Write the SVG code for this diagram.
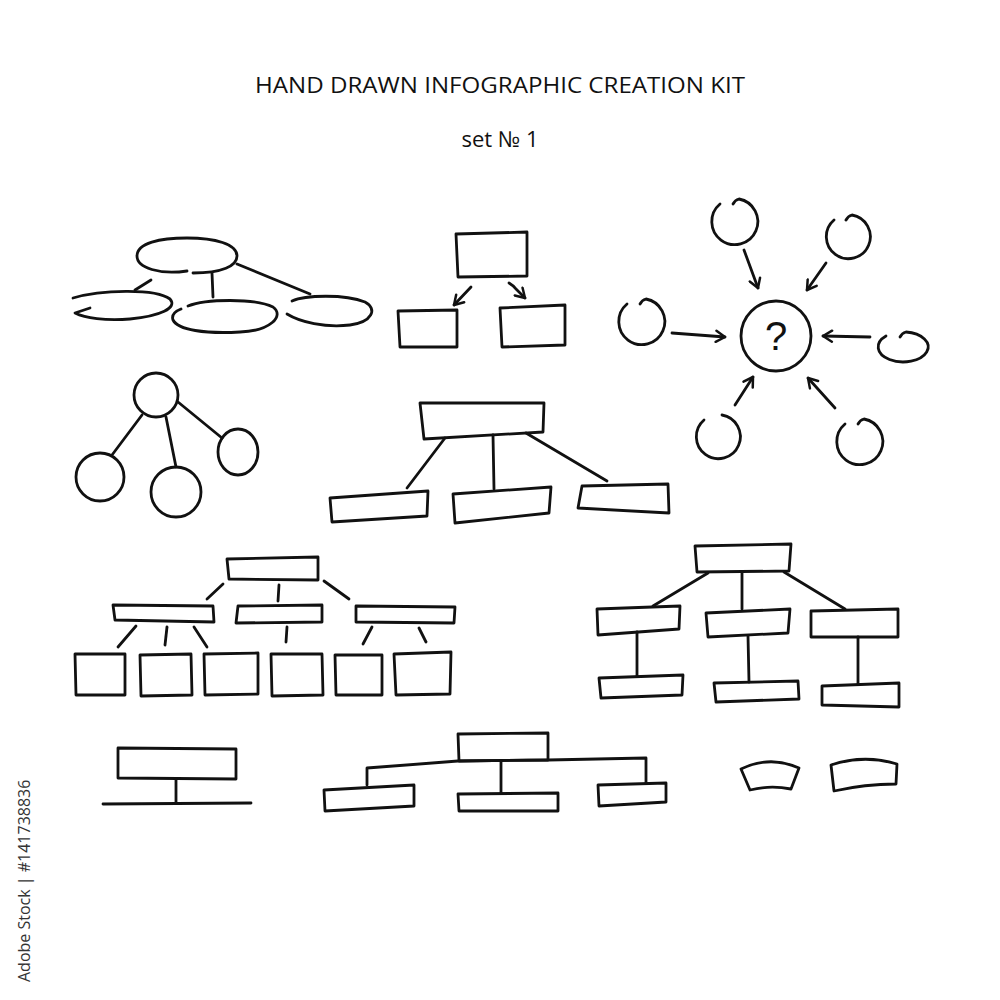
<svg xmlns="http://www.w3.org/2000/svg" width="1000" height="1000" viewBox="0 0 1000 1000">
<defs>
<style>
.s{fill:none;stroke:#111;stroke-width:2.8;stroke-linecap:round;stroke-linejoin:round}
.t{font-family:"Open Sans","Liberation Sans",sans-serif;fill:#111}
</style>
<marker id="ah" viewBox="0 0 14 14" refX="12" refY="7" markerWidth="14" markerHeight="14" markerUnits="userSpaceOnUse" orient="auto">
<path d="M3,1.5 L12,7 L3,12.5" fill="none" stroke="#111" stroke-width="2.5" stroke-linecap="round" stroke-linejoin="round"/>
</marker>
</defs>
<rect width="1000" height="1000" fill="#fff"/>

<g id="title">
<text class="t" x="500" y="93" font-size="22" text-anchor="middle" textLength="490" lengthAdjust="spacingAndGlyphs">HAND DRAWN INFOGRAPHIC CREATION KIT</text>
<text class="t" x="500" y="147" font-size="22" text-anchor="middle">set № 1</text>
</g>

<g id="ellipse-cluster">
<path id="ell-top" class="s" d="M187,271 C160,275 137,268 137,256 C137,243 160,238 187,238 C215,238 237,244 237,256 C237,266 222,273 193,273"/>
<path id="ell-left" class="s" d="M73,298 C100,290 155,288 170,299 C178,308 160,316 130,319 C105,321 85,318 75,313 L90,308"/>
<path id="ell-mid" class="s" d="M188,306 C205,299 255,298 273,307 C285,316 270,331 240,332 C205,334 178,330 173,320 C171,314 176,311 181,309"/>
<path id="ell-right" class="s" d="M292,301 C305,295 345,294 365,302 C378,309 372,322 350,325 C325,328 300,322 287,314"/>
</g>

<g id="box-arrows">
<path id="ba-top" class="s" d="M456,234 L527,232 L527,276 L458,277 Z"/>
<path id="ba-left" class="s" d="M398,311 L457,310 L457,347 L400,347 Z"/>
<path id="ba-right" class="s" d="M500,308 L565,305 L565,345 L502,347 Z"/>
</g>

<g id="star">
<circle id="st-center" class="s" cx="776" cy="336" r="35"/>
<text x="776" y="350" font-size="40" text-anchor="middle" style="font-family:'Liberation Sans',sans-serif;fill:#111">?</text>
<path id="st-c1" class="s" d="M733,204 Q735,200 739,199 A23,23 0 1 1 720,204"/>
<path id="st-c2" class="s" d="M846,220 Q848,216 852,215 A22,22 0 1 1 834,220"/>
<path id="st-c3" class="s" d="M640,304 Q642,300 646,299 A23,23 0 1 1 627,304"/>
<path id="st-c4" class="s" d="M900,337 Q902,333 906,332 A25,15 0 1 1 886,336"/>
<path id="st-c5" class="s" d="M722,415 A22,22 0 1 1 704,420"/>
<path id="st-c6" class="s" d="M858,424 Q860,420 864,419 A23,23 0 1 1 845,424"/>
</g>

<g id="circle-tree">
<circle id="ct-top" class="s" cx="156" cy="395" r="22"/>
<circle id="ct-left" class="s" cx="100" cy="477" r="24"/>
<circle id="ct-mid" class="s" cx="176" cy="492" r="25"/>
<ellipse id="ct-right" class="s" cx="238" cy="452" rx="20" ry="23"/>
</g>

<g id="tree-mid">
<path id="tm-top" class="s" d="M420,403 L544,403 L543,432 L424,439 Z"/>
<path id="tm-left" class="s" d="M330,498 L428,491 L427,516 L332,522 Z"/>
<path id="tm-mid" class="s" d="M453,494 L551,487 L549,513 L455,523 Z"/>
<path id="tm-right" class="s" d="M582,486 L668,484 L669,513 L578,508 Z"/>
</g>

<g id="tree-big">
<path class="s" d="M227,559 L318,557 L318,580 L229,579 Z"/>
<path class="s" d="M113,605 L213,606 L214,622 L115,620 Z"/>
<path class="s" d="M238,606 L322,605 L322,622 L236,623 Z"/>
<path class="s" d="M356,606 L455,607 L454,623 L356,622 Z"/>
<path class="s" d="M75,654 L125,654 L125,695 L76,695 Z"/>
<path class="s" d="M140,655 L191,654 L192,695 L141,696 Z"/>
<path class="s" d="M204,654 L258,653 L258,694 L205,695 Z"/>
<path class="s" d="M271,654 L322,654 L323,695 L272,696 Z"/>
<path class="s" d="M335,655 L382,655 L382,695 L336,695 Z"/>
<path class="s" d="M394,654 L451,652 L450,694 L396,695 Z"/>
</g>

<g id="tree-right">
<path class="s" d="M695,546 L791,544 L789,571 L697,572 Z"/>
<path class="s" d="M597,609 L680,606 L679,629 L598,635 Z"/>
<path class="s" d="M706,613 L790,609 L788,633 L708,637 Z"/>
<path class="s" d="M811,611 L898,609 L898,637 L811,637 Z"/>
<path class="s" d="M599,678 L683,675 L682,695 L601,698 Z"/>
<path class="s" d="M714,683 L798,681 L799,699 L716,702 Z"/>
<path class="s" d="M822,686 L899,683 L899,707 L822,705 Z"/>
</g>

<g id="bottom-left">
<path class="s" d="M118,748 L236,749 L236,779 L118,778 Z"/>
</g>

<g id="bracket-tree">
<path class="s" d="M458,734 L548,733 L548,760 L459,761 Z"/>
<path class="s" d="M324,790 L414,785 L414,806 L325,811 Z"/>
<path class="s" d="M458,794 L558,793 L558,811 L459,811 Z"/>
<path class="s" d="M598,785 L666,783 L666,802 L599,806 Z"/>
</g>

<g id="banners">
<path id="bn-1" class="s" d="M741,769 Q770,755 799,768 L791,789 Q770,785 750,790 Z"/>
<path id="bn-2" class="s" d="M831,765 Q864,754 897,764 L896,784 Q865,784 834,791 Z"/>
</g>

<g id="connectors">
<path class="s" d="M135,290 L151,280"/>
<path class="s" d="M212,273 L213,297"/>
<path class="s" d="M237,264 L310,294"/>
<path class="s" d="M471,287 L454,305" marker-end="url(#ah)"/>
<path class="s" d="M509,283 Q514,286 516,289 L525,298" marker-end="url(#ah)"/>
<path class="s" d="M744,250 L758,288" marker-end="url(#ah)"/>
<path class="s" d="M826,263 L807,290" marker-end="url(#ah)"/>
<path class="s" d="M672,333 L725,337" marker-end="url(#ah)"/>
<path class="s" d="M870,337 L823,336" marker-end="url(#ah)"/>
<path class="s" d="M735,405 L753,377" marker-end="url(#ah)"/>
<path class="s" d="M835,408 L808,378" marker-end="url(#ah)"/>
<path class="s" d="M142,415 L112,455"/>
<path class="s" d="M166,417 L176,467"/>
<path class="s" d="M178,402 L222,438"/>
<path class="s" d="M445,438 L407,488"/>
<path class="s" d="M493,435 L494,489"/>
<path class="s" d="M526,433 L607,481"/>
<path class="s" d="M223,584 L207,599"/>
<path class="s" d="M279,585 L278,601"/>
<path class="s" d="M324,581 L349,599"/>
<path class="s" d="M136,626 L118,647"/>
<path class="s" d="M167,627 L165,645"/>
<path class="s" d="M194,627 L207,647"/>
<path class="s" d="M287,627 L286,642"/>
<path class="s" d="M372,627 L363,644"/>
<path class="s" d="M419,628 L426,642"/>
<path class="s" d="M708,573 L653,606"/>
<path class="s" d="M742,572 L742,609"/>
<path class="s" d="M784,572 L845,609"/>
<path class="s" d="M637,632 L637,676"/>
<path class="s" d="M748,636 L749,682"/>
<path class="s" d="M858,637 L858,684"/>
<path class="s" d="M176,779 L176,803"/>
<path class="s" d="M103,804 L251,803"/>
<path class="s" d="M367,785 L367,768 L458,761 L548,760 L646,758 L646,783"/>
<path class="s" d="M501,761 L501,793"/>
</g>

<text transform="translate(30,982) rotate(-90)" font-size="16" style="font-family:'Open Sans','Liberation Sans',sans-serif;fill:#333">Adobe Stock | #141738836</text>
</svg>
